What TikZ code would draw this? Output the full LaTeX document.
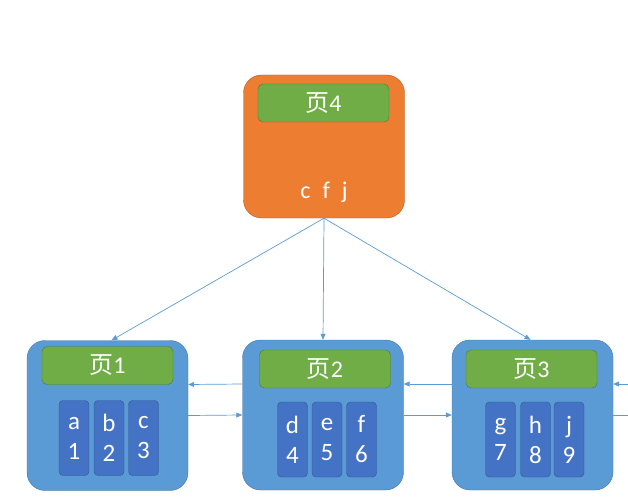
\documentclass[tikz,border=0pt]{standalone}
\usepackage{fontspec}
\setmainfont{Carlito}
\newfontfamily\cjk{Noto Sans CJK SC}
\usetikzlibrary{arrows.meta}
\definecolor{rootorange}{HTML}{ED7D31}
\definecolor{titlegreen}{HTML}{70AD47}
\definecolor{pageblue}{HTML}{5B9BD5}
\definecolor{cellblue}{HTML}{4472C4}
\definecolor{linkblue}{HTML}{5B9BD5}
\begin{document}
\begin{tikzpicture}[x=1pt, y=-1pt,
    page/.style={draw=pageblue!75!black, fill=pageblue, rounded corners=18pt, minimum width=161pt, minimum height=150pt, inner sep=0pt},
    root/.style={page, draw=rootorange!75!black, fill=rootorange, minimum height=143pt},
    title/.style={draw=titlegreen!70!black, fill=titlegreen, rounded corners=5pt, minimum width=131pt, minimum height=38pt, inner sep=0pt, text=white, font=\fontsize{24}{28}\selectfont},
    cell/.style={draw=cellblue!75!black, fill=cellblue, rounded corners=4pt, minimum width=30pt, minimum height=75pt, inner sep=0pt, text=white, align=center, font=\fontsize{25}{30}\selectfont},
    link/.style={-{Triangle[length=6pt,width=5pt]}, linkblue, line width=0.7pt}
  ]
  \useasboundingbox (0,0) rectangle (628,497);
  % root page
  \node[root] (root) at (324,146.5) {};
  \node[title] (t4) at (323.5,103) {{\cjk 页}4};
  \node[text=white, font=\fontsize{24}{28}\selectfont] (keys) at (324,192) {c\enspace f\enspace j};
  % leaf pages
  \node[page] (p1) at (107.5,415.5) {};
  \node[page] (p2) at (323,415) {};
  \node[page] (p3) at (532.5,415) {};
  \node[title] (t1) at (107.5,365.5) {{\cjk 页}1};
  \node[title] (t2) at (325,369) {{\cjk 页}2};
  \node[title] (t3) at (531.5,369) {{\cjk 页}3};
  \foreach \x/\k/\v [count=\i] in {74/a/1, 109/b/2, 143.5/c/3} {
    \node[cell] (a\i) at (\x,438) {\k\\\v};
  }
  \foreach \x/\k/\v [count=\i] in {292.5/d/4, 327/e/5, 361.5/f/6} {
    \node[cell] (b\i) at (\x,439.5) {\k\\\v};
  }
  \foreach \x/\k/\v [count=\i] in {500.5/g/7, 535.5/h/8, 569/j/9} {
    \node[cell] (c\i) at (\x,439.5) {\k\\\v};
  }
  % links
  \draw[link] (root.south) -- ([xshift=4pt]p1.north);
  \draw[link] (root.south) -- (p2.north);
  \draw[link] (root.south) -- ([xshift=-2pt]p3.north);
  \draw[link] ([yshift=31pt]p2.west) -- ([yshift=31pt]p1.east);
  \draw[link] (p1.east) -- (p2.west);
  \draw[link] ([yshift=31pt]p3.west) -- ([yshift=31pt]p2.east);
  \draw[link] (p2.east) -- (p3.west);
  \coordinate (rin) at (628,384);
  \coordinate (rout) at (628,415);
  \draw[link] (rin) -- ([yshift=31pt]p3.east);
  \draw[link, -] (p3.east) -- (rout);
\end{tikzpicture}
\end{document}
